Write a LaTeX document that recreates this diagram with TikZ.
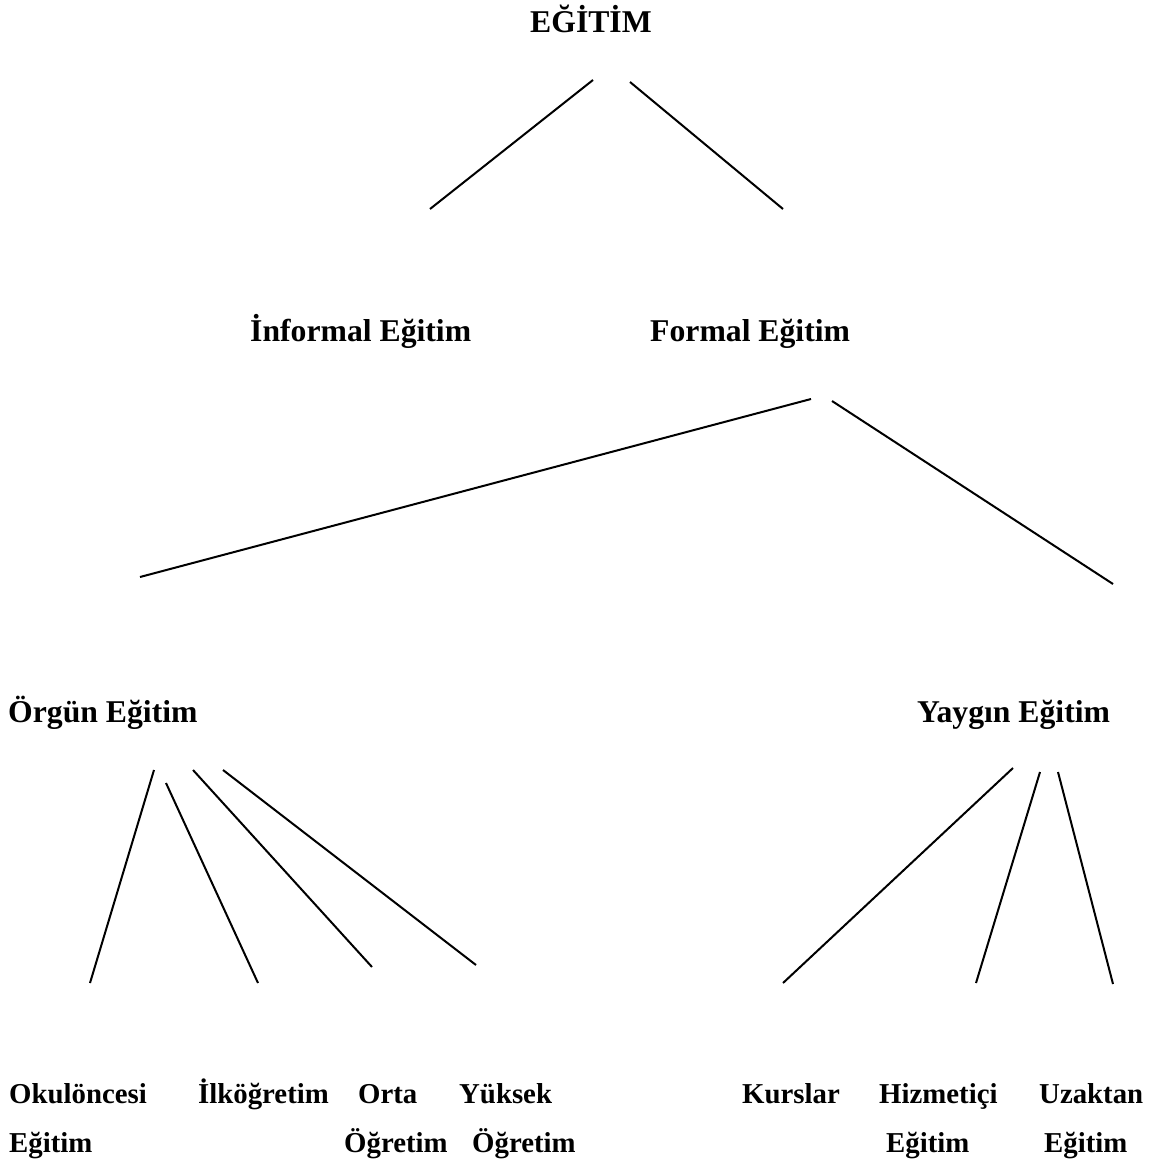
\documentclass[tikz,border=0pt]{standalone}
\usepackage{fontspec}
\setmainfont{Liberation Serif}
\usepackage{tikz}
\usetikzlibrary{positioning}
\tikzstyle{lbl} = [inner sep=0pt, anchor=base west, font=\fontsize{31.7}{38}\selectfont\bfseries]
\tikzstyle{leaf} = [inner sep=0pt, anchor=base west, font=\fontsize{28.8}{35}\selectfont\bfseries]
\tikzstyle{line} = [line width=2pt]

\begin{document}
\begin{tikzpicture}[x=1pt,y=-1pt]
\useasboundingbox (0,0) rectangle (1158,1164);
% labels
\draw (530,33) node (egitim) [lbl] {EĞİTİM};
\draw (250,341) node (informal) [lbl] {İnformal Eğitim};
\draw (650,341) node (formal) [lbl] {Formal Eğitim};
\draw (8,722) node (orgun) [lbl] {Örgün Eğitim};
\draw (917,722) node (yaygin) [lbl] {Yaygın Eğitim};
\draw (9,1103) node (okul) [leaf] {Okulöncesi};
\draw (9,1152) node (okul2) [leaf] {Eğitim};
\draw (198,1103) node (ilk) [leaf] {İlköğretim};
\draw (358,1103) node (orta) [leaf] {Orta};
\draw (344,1152) node (orta2) [leaf] {Öğretim};
\draw (459,1103) node (yuksek) [leaf] {Yüksek};
\draw (472,1152) node (yuksek2) [leaf] {Öğretim};
\draw (742,1103) node (kurs) [leaf] {Kurslar};
\draw (879,1103) node (hizmet) [leaf] {Hizmetiçi};
\draw (886,1152) node (hizmet2) [leaf] {Eğitim};
\draw (1039,1103) node (uzak) [leaf] {Uzaktan};
\draw (1044,1152) node (uzak2) [leaf] {Eğitim};
% line ends
\coordinate (e1) at (593,80);   \coordinate (i1) at (430,209);
\coordinate (e2) at (630,82);   \coordinate (f1) at (783,209);
\coordinate (f2) at (811,399);  \coordinate (o1) at (140,577);
\coordinate (f3) at (832,401);  \coordinate (y1) at (1113,584);
\coordinate (o2) at (154,770);  \coordinate (ok) at (90,983);
\coordinate (o3) at (166,783);  \coordinate (il) at (258,983);
\coordinate (o4) at (193,770);  \coordinate (or) at (372,967);
\coordinate (o5) at (223,770);  \coordinate (yu) at (476,965);
\coordinate (y2) at (1013,768); \coordinate (ku) at (783,983);
\coordinate (y3) at (1040,772); \coordinate (hi) at (976,983);
\coordinate (y4) at (1058,772); \coordinate (uz) at (1113,984);
\draw [line] (e1)--(i1);
\draw [line] (e2)--(f1);
\draw [line] (f2)--(o1);
\draw [line] (f3)--(y1);
\draw [line] (o2)--(ok);
\draw [line] (o3)--(il);
\draw [line] (o4)--(or);
\draw [line] (o5)--(yu);
\draw [line] (y2)--(ku);
\draw [line] (y3)--(hi);
\draw [line] (y4)--(uz);
\end{tikzpicture}
\end{document}
